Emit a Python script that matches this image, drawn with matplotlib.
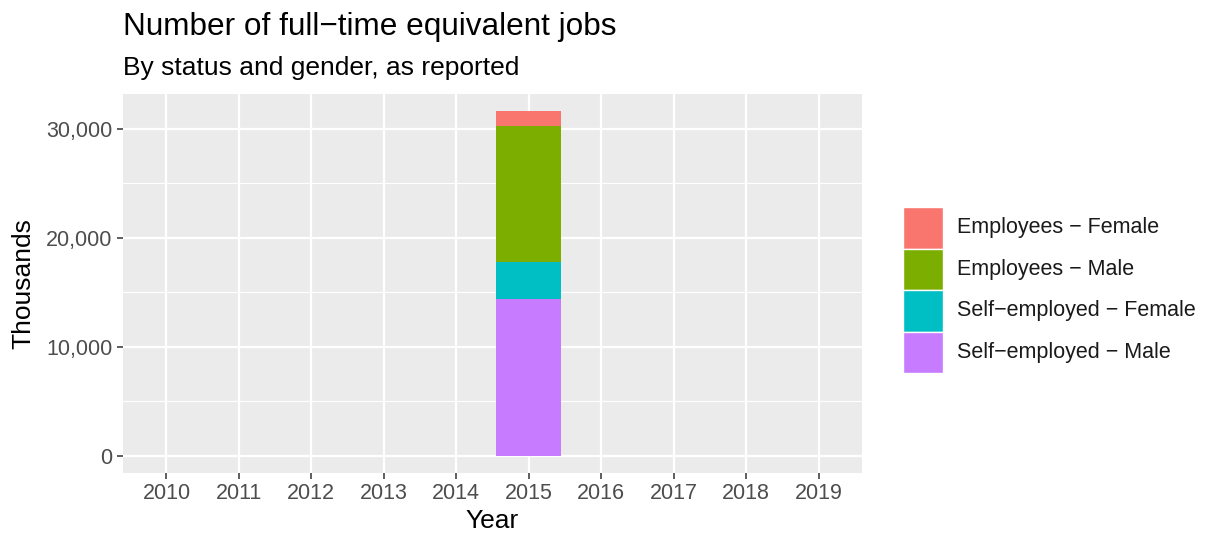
import matplotlib
matplotlib.use("Agg")
import matplotlib.pyplot as plt
from matplotlib.patches import Rectangle
from matplotlib.ticker import FuncFormatter, MultipleLocator
import numpy as np

# ---- data ----
years = ["2010", "2011", "2012", "2013", "2014", "2015", "2016", "2017", "2018", "2019"]
# only 2015 has reported values (thousands); other years empty
self_employed_male   = [0, 0, 0, 0, 0, 14350, 0, 0, 0, 0]
self_employed_female = [0, 0, 0, 0, 0, 3400, 0, 0, 0, 0]
employees_male       = [0, 0, 0, 0, 0, 12450, 0, 0, 0, 0]
employees_female     = [0, 0, 0, 0, 0, 1400, 0, 0, 0, 0]
series_names = ["Employees \u2212 Female", "Employees \u2212 Male",
                "Self\u2212employed \u2212 Female", "Self\u2212employed \u2212 Male"]
series_colors = ["#F8766D", "#7CAE00", "#00BFC4", "#C77CFF"]
y_ticks = [0, 10000, 20000, 30000]

plt.rcParams['font.family'] = ['Liberation Sans', 'DejaVu Sans']

W, H = 1209, 534
fig = plt.figure(figsize=(W / 100, H / 100), dpi=100)
fig.patch.set_facecolor("white")

pl, pr, pt, pb = 123, 862, 94, 473
ax = fig.add_axes([pl / W, 1 - pb / H, (pr - pl) / W, (pb - pt) / H])
ax.set_facecolor("#EBEBEB")

x = np.arange(len(years))
stack_order = [self_employed_male, self_employed_female, employees_male, employees_female]
stack_colors = [series_colors[3], series_colors[2], series_colors[1], series_colors[0]]
bottom = np.zeros(len(years))
for vals, col in zip(stack_order, stack_colors):
    v = np.array(vals, dtype=float)
    mask = v > 0
    ax.bar(x[mask], v[mask], bottom=bottom[mask], width=0.9, color=col,
           linewidth=0, zorder=3)
    bottom += v

top = bottom.max()
ax.set_xlim(-0.6, len(years) - 1 + 0.6)
ax.set_ylim(-0.05 * top, top * 1.05)

ax.set_xticks(x)
ax.set_xticklabels(years)
ax.set_yticks(y_ticks)
ax.yaxis.set_major_formatter(FuncFormatter(lambda v, p: f"{int(v):,}"))
ax.yaxis.set_minor_locator(MultipleLocator(5000))

ax.grid(which="major", color="white", linewidth=1.6, zorder=1)
ax.grid(which="minor", axis="y", color="white", linewidth=0.8, zorder=1)
ax.set_axisbelow(True)
for s in ax.spines.values():
    s.set_visible(False)

ax.tick_params(axis="both", which="major", length=4, width=1.1, color="#333333",
               labelsize=15.5, labelcolor="#4D4D4D", pad=3.5)
ax.tick_params(axis="y", which="minor", length=0)

ax.set_xlabel("Year", fontsize=19, color="black", va="center")
ax.xaxis.set_label_coords(0.5, -(521 - pb) / (pb - pt))
ax.set_ylabel("Thousands", fontsize=19, color="black", va="center")
ax.yaxis.set_label_coords(-(pl - 23) / (pr - pl), 0.5)

fig.text(pl / W, 1 - 27 / H, "Number of full\u2212time equivalent jobs",
         fontsize=22.7, color="black", ha="left", va="center")
fig.text(pl / W, 1 - 68 / H, "By status and gender, as reported",
         fontsize=19, color="black", ha="left", va="center")

# ---- legend ----
kx0, kx1 = 903, 943
ky0, kh = 207, 41.5
for i, (name, col) in enumerate(zip(series_names, series_colors)):
    y0 = ky0 + i * kh
    fig.add_artist(Rectangle((kx0 / W, 1 - (y0 + kh) / H), (kx1 - kx0) / W, kh / H,
                             transform=fig.transFigure, facecolor=col,
                             edgecolor="white", linewidth=1.0))
    fig.text(957 / W, 1 - (y0 + kh / 2) / H, name, fontsize=15.5,
             color="#1A1A1A", ha="left", va="center")

fig.savefig("out.png", dpi=100, facecolor="white")
